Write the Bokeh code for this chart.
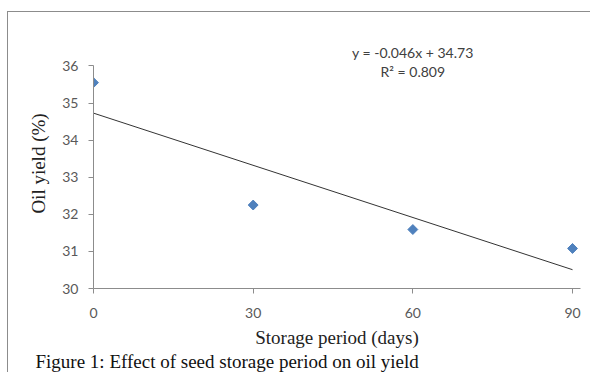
import numpy as np
from bokeh.plotting import figure
from bokeh.models import Range1d, FixedTicker, Title, Label
from bokeh.embed import file_html
from bokeh.resources import INLINE

# Data
storage_days = [0, 30, 60, 90]
oil_yield = [35.55, 32.25, 31.59, 31.08]
x_ticks = [0, 30, 60, 90]
y_ticks = [30, 31, 32, 33, 34, 35, 36]
equation_text = "y = -0.046x + 34.73"
r2_text = "R\u00b2 = 0.809"
caption_text = "Figure 1: Effect of seed storage period on oil yield"

# Linear trendline from the data
slope, intercept = np.polyfit(storage_days, oil_yield, 1)
trend_x = [storage_days[0], storage_days[-1]]
trend_y = [intercept + slope * x for x in trend_x]

p = figure(width=583, height=361, output_backend="svg", toolbar_location=None,
           x_range=Range1d(0, 91.5), y_range=Range1d(30, 36.74),
           min_border_left=85, min_border_right=11, min_border_top=26, min_border_bottom=85)
p.styles = {"margin-left": "7px", "margin-top": "11px",
            "border-top": "1px solid #8c8c8c", "border-left": "1px solid #8c8c8c"}
p.outline_line_color = None
p.xgrid.grid_line_color = None
p.ygrid.grid_line_color = None
p.background_fill_color = "white"
p.border_fill_color = "white"

# trendline
p.line(trend_x, trend_y, line_color="#333333", line_width=1)
# points
p.scatter(storage_days, oil_yield, marker="square", angle=np.pi / 4, size=7,
          fill_color="#4F81BD", line_color="#4F81BD")

for ax in (p.xaxis[0], p.yaxis[0]):
    ax.axis_line_color = "#8c8c8c"
    ax.major_tick_line_color = "#8c8c8c"
    ax.minor_tick_line_color = None
    ax.major_tick_in = 0
    ax.major_tick_out = 5
    ax.major_label_text_font = "Lato"
    ax.major_label_text_font_size = "14px"
    ax.major_label_text_color = "#595959"
    ax.axis_label_text_font = "Liberation Serif"
    ax.axis_label_text_font_size = "19px"
    ax.axis_label_text_font_style = "normal"
    ax.axis_label_text_color = "#222222"

p.xaxis[0].ticker = FixedTicker(ticks=x_ticks)
p.yaxis[0].ticker = FixedTicker(ticks=y_ticks)
p.yaxis[0].bounds = (30, 36)
p.xaxis[0].major_label_standoff = 14
p.yaxis[0].major_label_standoff = 10
p.xaxis[0].axis_label = "Storage period (days)"
p.yaxis[0].axis_label = "Oil yield (%)"
p.xaxis[0].axis_label_standoff = 6
p.yaxis[0].axis_label_standoff = 10

p.add_layout(Label(x=60, y=36.37, text=equation_text, text_align="center",
                   text_baseline="middle", text_font="Lato", text_font_size="14px",
                   text_color="#404040"))
p.add_layout(Label(x=60, y=35.84, text=r2_text, text_align="center",
                   text_baseline="middle", text_font="Lato", text_font_size="14px",
                   text_color="#404040"))
p.add_layout(Title(text=caption_text, align="left", offset=-58, vertical_align="top",
                   text_font="Liberation Serif", text_font_size="19px",
                   text_font_style="normal", text_color="#111111", standoff=0), "below")

open("out.html", "w").write(file_html(p, INLINE))
